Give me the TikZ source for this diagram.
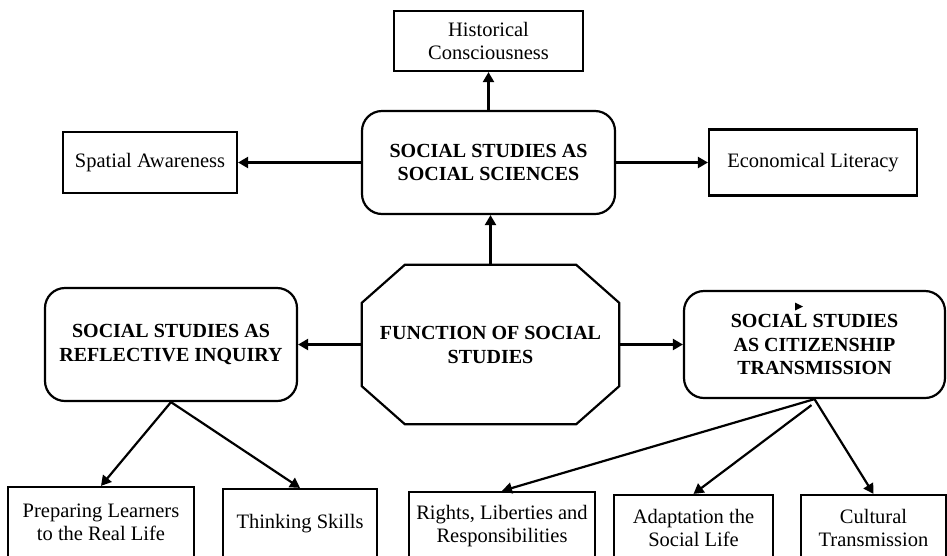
\documentclass[tikz,border=0pt]{standalone}
\usepackage{fontspec}
\setmainfont{Liberation Serif}
\usetikzlibrary{arrows.meta}
\begin{document}
\begin{tikzpicture}[x=1pt,y=-1pt,
  plainbox/.style={draw, line width=2.2pt, align=center, inner sep=0pt,
    font=\fontsize{20.5}{23}\selectfont},
  hubbox/.style={draw, line width=2.2pt, rounded corners=20pt, align=center, inner sep=0pt,
    font=\fontsize{20}{23.5}\selectfont\bfseries},
  link/.style={line width=2.2pt, -{Triangle[length=10pt,width=11pt]}},
]
\clip (0,0) rectangle (947,555);
\fill[white] (0,0) rectangle (947,555);

% central hub (octagon outline drawn separately below)
\node[align=center, minimum width=257pt, minimum height=159pt, inner sep=0pt,
      font=\fontsize{20}{24}\selectfont\bfseries] (fn) at (490.5,344.5)
      {FUNCTION OF SOCIAL\\STUDIES};
\draw[line width=2.2pt, line join=miter]
  ([xshift=43pt]fn.north west) -- ([xshift=-43pt]fn.north east)
  -- ([yshift=-38pt]fn.north east) -- ([yshift=38pt]fn.south east)
  -- ([xshift=-43pt]fn.south east) -- ([xshift=43pt]fn.south west)
  -- ([yshift=38pt]fn.south west) -- ([yshift=-38pt]fn.north west) -- cycle;

% three approaches
\node[hubbox, minimum width=253pt, minimum height=103pt] (ss) at (488.5,162.5)
  {SOCIAL STUDIES AS\\SOCIAL SCIENCES};
\node[hubbox, minimum width=252pt, minimum height=113pt] (ri) at (171,344.5)
  {SOCIAL STUDIES AS\\REFLECTIVE INQUIRY};
\node[hubbox, minimum width=261pt, minimum height=107pt] (ct) at (814.5,344.5)
  {SOCIAL STUDIES\\AS CITIZENSHIP\\TRANSMISSION};
\fill (795,302.5) -- (803,306.5) -- (795,310.5) -- cycle;

% social sciences branch
\node[plainbox, minimum width=189pt, minimum height=60pt] (hist) at (488.5,41)
  {Historical\\Consciousness};
\node[plainbox, minimum width=174pt, minimum height=61pt] (spat) at (150,162.5)
  {Spatial Awareness};
\node[plainbox, minimum width=208pt, minimum height=66pt] (econ) at (813,162.5)
  {Economical Literacy};

% reflective inquiry branch
\node[plainbox, minimum width=186pt, minimum height=71pt] (prep) at (101,522.5)
  {Preparing Learners\\to the Real Life};
\node[plainbox, minimum width=154pt, minimum height=69pt] (think) at (300,523.5)
  {Thinking Skills};

% citizenship transmission branch
\node[plainbox, minimum width=186pt, minimum height=68pt] (rights) at (502,526)
  {Rights, Liberties and\\Responsibilities};
\node[plainbox, minimum width=159pt, minimum height=65pt] (adapt) at (693.5,527.5)
  {Adaptation the\\Social Life};
\node[plainbox, minimum width=145pt, minimum height=65pt] (cult) at (873.5,527.5)
  {Cultural\\Transmission};

\coordinate (ctfoot) at ([xshift=-3pt,yshift=-6pt]ct.south);

% connectors
\draw[link] (fn.north) -- (fn.north |- ss.south);
\draw[link] (ss.north) -- (hist.south);
\draw[link] (ss.west) -- (spat.east);
\draw[link] (ss.east) -- (econ.west);
\draw[link] (fn.west) -- (ri.east);
\draw[link] (fn.east) -- (ct.west);
\draw[link] (ri.south) -- (prep.north);
\draw[link] (ri.south) -- (think.north);
\draw[link] (ct.south) -- (rights.north);
\draw[link] (ctfoot) -- (adapt.north);
\draw[link] (ct.south) -- (cult.north);
\end{tikzpicture}
\end{document}
